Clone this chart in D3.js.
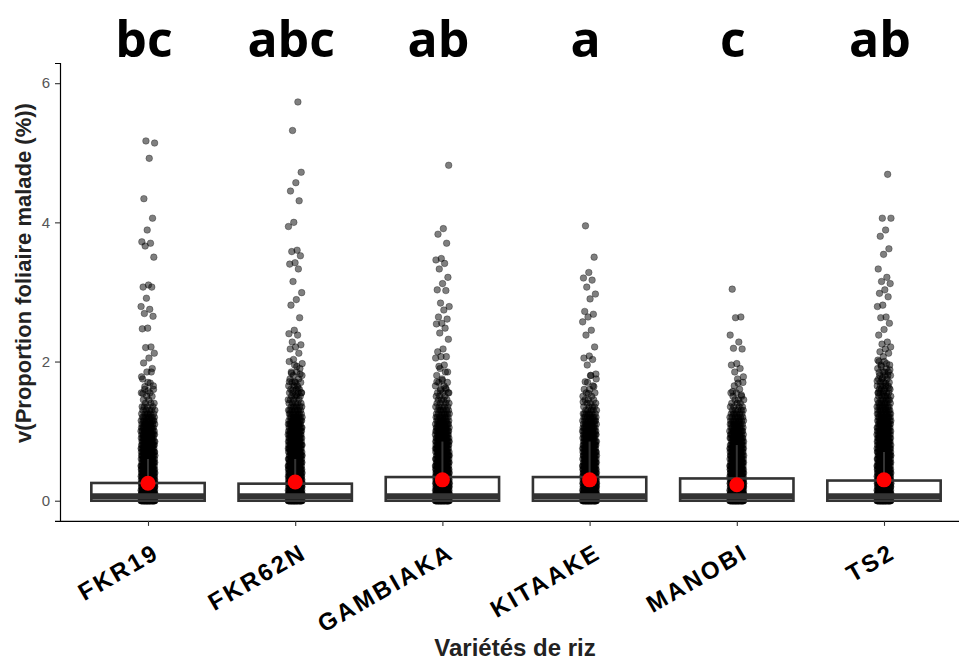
<!DOCTYPE html>
<html>
<head>
<meta charset="utf-8">
<script src="https://cdn.jsdelivr.net/npm/d3@7/dist/d3.min.js"></script>
<style>
body{margin:0;background:#fff}
svg{display:block}
</style>
</head>
<body>
<div id="chart"></div>
<script>
// categories and letters of the Tukey groups
var varieties = ["FKR19","FKR62N","GAMBIAKA","KITAAKE","MANOBI","TS2"]
var letters = ["bc","abc","ab","a","c","ab"]

// box stats (q1 is 0 everywhere)
var q1 = [0,0,0,0,0,0]
var medians = [0.065,0.065,0.065,0.065,0.065,0.065]
var q3 = [0.255,0.245,0.34,0.34,0.32,0.29]
var means = [0.25,0.27,0.30,0.30,0.23,0.30]

// isolated points above the dense column
var fkr19High = [5.17,5.14,4.92,4.34,4.06,3.89,3.72,3.70,3.66,3.50,3.10,3.07,3.07,2.91,2.79,2.75,2.69,2.65,2.48,2.47,2.21,2.20,2.12,2.05,1.98,1.90,1.85,1.78,1.69,1.64,1.60,1.58,1.54]
var fkr62nHigh = [5.73,5.32,4.72,4.57,4.45,4.31,4.00,3.94,3.60,3.58,3.52,3.42,3.40,3.33,3.15,2.99,2.89,2.81,2.63,2.45,2.40,2.38,2.28,2.24,2.21,2.18,2.12,2.03,1.97,1.93,1.83,1.82,1.71,1.71,1.62,1.59,1.55,1.52]
var gambiakaHigh = [4.82,3.91,3.83,3.70,3.48,3.46,3.41,3.33,3.21,3.12,3.03,3.02,2.84,2.79,2.74,2.64,2.61,2.55,2.54,2.48,2.41,2.32,2.18,2.14,2.07,2.07,2.05,1.95,1.93,1.85,1.73,1.71,1.62,1.58,1.55]
var kitaakeHigh = [3.95,3.50,3.28,3.20,3.17,3.07,2.97,2.90,2.72,2.68,2.64,2.57,2.45,2.38,2.21,2.08,2.05,2.03,1.95,1.82,1.80,1.71,1.64,1.54,1.42]
var manobiHigh = [3.04,2.64,2.63,2.38,2.28,2.19,2.18,1.97,1.95,1.90,1.85,1.78,1.69,1.57,1.52]
var ts2High = [4.69,4.06,4.06,3.89,3.80,3.62,3.54,3.33,3.21,3.15,3.12,3.03,2.98,2.93,2.81,2.79,2.64,2.63,2.55,2.46,2.38,2.28,2.25,2.21,2.18,2.14,2.12,2.07,2.02,1.97,1.93,1.88,1.85,1.84,1.80,1.76,1.72,1.69,1.65,1.62,1.58,1.55]

// dense part: how many points sit at each level (estimated from darkness)
var levels = [0,0.05,0.1,0.15,0.2,0.25,0.3,0.35,0.4,0.45,0.5,0.55,0.6,0.65,0.7,0.75,0.8,0.85,0.9,0.95,1.0,1.05,1.1,1.15,1.2,1.25,1.3,1.35,1.4,1.45,1.5,1.55,1.6,1.65,1.7,1.75,1.8,1.85,1.9,1.95,2.0]
var fkr19Counts = [40,34,30,28,26,24,22,21,20,19,18,17,16,16,15,14,14,13,12,12,11,10,9,9,8,6,5,4,3,2,2,2,1,1,1,1,0,1,0,0,0]
var fkr62nCounts = [40,34,30,28,26,24,22,21,20,19,18,18,17,16,16,15,15,14,13,13,12,11,11,10,9,8,7,6,5,4,4,4,3,3,3,2,2,2,1,1,1]
var gambiakaCounts = [40,34,30,28,26,24,22,21,20,19,18,18,17,16,16,15,14,14,13,12,12,11,10,9,8,7,6,5,4,4,3,3,2,2,2,1,1,1,1,0,0]
var kitaakeCounts = [40,34,30,28,26,24,22,21,20,19,18,17,16,16,15,14,14,13,12,12,11,10,9,9,8,7,5,4,3,3,2,2,2,1,1,1,1,0,0,0,0]
var manobiCounts = [40,34,30,28,26,24,22,21,20,19,18,17,16,15,14,14,13,12,12,11,10,9,8,8,7,6,5,4,3,3,2,2,1,1,1,1,0,0,0,0,0]
var ts2Counts = [40,34,30,28,26,24,22,21,20,19,18,18,17,17,16,16,15,15,14,13,13,12,11,11,10,9,8,8,7,6,6,5,4,4,3,3,3,2,2,2,2]

var yTicks = [0,2,4,6]

var highs = [fkr19High,fkr62nHigh,gambiakaHigh,kitaakeHigh,manobiHigh,ts2High]
var counts = [fkr19Counts,fkr62nCounts,gambiakaCounts,kitaakeCounts,manobiCounts,ts2Counts]

var width = 959
var height = 661

var svg = d3.select("#chart").append("svg").attr("width",width).attr("height",height)

var xScale = d3.scalePoint().domain(varieties).range([148,884])
var step = xScale.step()
var yScale = d3.scaleLinear().domain([-0.29,6.29]).range([520.9,63])

//build one row per point
var points = []
varieties.forEach(function(v,i){
	var vals = []
	levels.forEach(function(l,j){
		for(var k=0;k<counts[i][j];k++){ vals.push(l) }
	})
	highs[i].forEach(function(h){ vals.push(h) })
	vals.forEach(function(val,k){
		points.push({variety:v, value:val, k:k})
	})
})

// jitter spread (fixed sequence, no randomness)
function jit(k){
	var u = (k*0.6180339887 + 0.37) % 1
	return (u*2-1)*7
}

//points first, boxplot goes over them
svg.append("g").selectAll("circle")
	.data(points)
	.enter().append("circle")
	.attr("cx", function(d){ return xScale(d.variety) + jit(d.k) })
	.attr("cy", function(d){ return yScale(d.value) })
	.attr("r", 3.3)
	.attr("fill","#000")
	.attr("fill-opacity",0.5)
	.attr("stroke","#000")
	.attr("stroke-opacity",0.45)
	.attr("stroke-width",0.7)

var stats = varieties.map(function(v,i){
	var all = points.filter(function(p){ return p.variety == v }).map(function(p){ return p.value })
	var iqr = q3[i]-q1[i]
	var hi = d3.max(all.filter(function(x){ return x <= q3[i]+1.5*iqr }))
	return {variety:v, q1:q1[i], med:medians[i], q3:q3[i], hi:hi, mean:means[i]}
})

var boxW = step*0.77
var boxes = svg.append("g")

boxes.selectAll(".whisker")
	.data(stats)
	.enter().append("line")
	.attr("class","whisker")
	.attr("x1", function(d){ return xScale(d.variety) })
	.attr("x2", function(d){ return xScale(d.variety) })
	.attr("y1", function(d){ return yScale(d.q3) })
	.attr("y2", function(d){ return yScale(d.hi) })
	.attr("stroke","#333333")
	.attr("stroke-width",2)

boxes.selectAll(".box")
	.data(stats)
	.enter().append("rect")
	.attr("class","box")
	.attr("x", function(d){ return xScale(d.variety) - boxW/2 })
	.attr("y", function(d){ return yScale(d.q3) })
	.attr("width", boxW)
	.attr("height", function(d){ return yScale(d.q1) - yScale(d.q3) })
	.attr("fill","none")
	.attr("stroke","#333333")
	.attr("stroke-width",2.6)

boxes.selectAll(".median")
	.data(stats)
	.enter().append("line")
	.attr("class","median")
	.attr("x1", function(d){ return xScale(d.variety) - boxW/2 })
	.attr("x2", function(d){ return xScale(d.variety) + boxW/2 })
	.attr("y1", function(d){ return yScale(d.med) })
	.attr("y2", function(d){ return yScale(d.med) })
	.attr("stroke","#333333")
	.attr("stroke-width",6)

// red mean points
svg.append("g").selectAll("circle")
	.data(stats)
	.enter().append("circle")
	.attr("cx", function(d){ return xScale(d.variety) })
	.attr("cy", function(d){ return yScale(d.mean) })
	.attr("r", 7.5)
	.attr("fill","#ff0000")

// axes
var yAxis = svg.append("g")
	.attr("transform","translate(60,0)")
	.call(d3.axisLeft(yScale).tickValues(yTicks).tickSize(5).tickPadding(5).tickFormat(d3.format("d")))
yAxis.select(".domain").attr("stroke","#000").attr("stroke-width",1.2)
yAxis.selectAll(".tick line").attr("stroke","#333").attr("stroke-width",1.1)
yAxis.selectAll("text")
	.attr("font-family","'Liberation Sans', Arial, sans-serif")
	.attr("font-size","15px")
	.attr("fill","#555")

var xAxis = svg.append("g")
	.attr("transform","translate(0,520.9)")
	.call(d3.axisBottom(d3.scalePoint().domain(varieties).range([148,884])).tickSize(5).tickSizeOuter(0))
xAxis.select(".domain").attr("d","M60,0.5H959").attr("stroke","#000").attr("stroke-width",1.2)
xAxis.selectAll(".tick line").attr("stroke","#333").attr("stroke-width",1.1)
xAxis.selectAll("text").remove()

svg.append("g").selectAll("text")
	.data(varieties)
	.enter().append("text")
	.attr("transform", function(d){ return "translate(" + (xScale(d)+13) + ",557) rotate(-30)" })
	.attr("text-anchor","end")
	.attr("font-family","'Liberation Sans', Arial, sans-serif")
	.attr("font-weight","bold")
	.attr("font-size","24px")
	.attr("letter-spacing","2.5px")
	.attr("fill","#000")
	.text(function(d){ return d })

// letters on top
svg.append("g").selectAll("text")
	.data(varieties)
	.enter().append("text")
	.attr("x", function(d){ return xScale(d) - 4 })
	.attr("y", 57)
	.attr("text-anchor","middle")
	.attr("font-family","'Open Sans', sans-serif")
	.attr("font-weight","bold")
	.attr("font-size","50px")
	.attr("fill","#000")
	.text(function(d,i){ return letters[i] })

// axis titles
svg.append("text")
	.attr("x",515)
	.attr("y",656)
	.attr("text-anchor","middle")
	.attr("font-family","'Liberation Sans', Arial, sans-serif")
	.attr("font-weight","bold")
	.attr("font-size","24px")
	.attr("fill","#222")
	.text("Variétés de riz")

svg.append("text")
	.attr("transform","translate(31,273) rotate(-90)")
	.attr("text-anchor","middle")
	.attr("font-family","'Liberation Sans', Arial, sans-serif")
	.attr("font-weight","bold")
	.attr("font-size","22px")
	.attr("fill","#222")
	.text("v(Proportion foliaire malade (%))")
</script>
</body>
</html>
